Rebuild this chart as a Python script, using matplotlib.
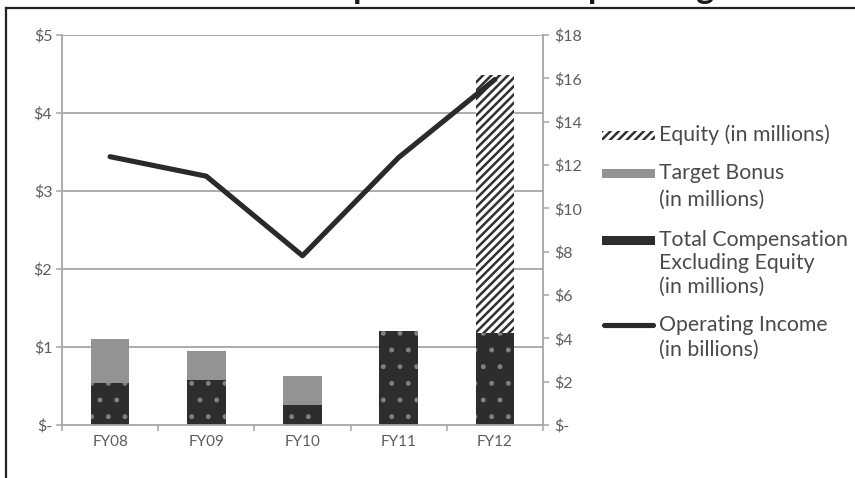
import matplotlib
matplotlib.use("Agg")
import matplotlib.pyplot as plt
import matplotlib.transforms as mtransforms
from matplotlib.patches import Rectangle
from matplotlib.lines import Line2D

# ---- data -------------------------------------------------------------
categories = ["FY08", "FY09", "FY10", "FY11", "FY12"]
total_comp = [1.95, 2.08, 0.92, 4.34, 4.26]      # $ millions
target_bonus = [2.02, 1.34, 1.34, 0.0, 0.0]      # $ millions
equity = [0.0, 0.0, 0.0, 0.0, 11.89]             # $ millions
operating_income = [3.44, 3.19, 2.17, 3.43, 4.43]  # $ billions

left_ticks = [0, 1, 2, 3, 4, 5]
left_labels = ["$-", "$1", "$2", "$3", "$4", "$5"]
right_ticks = [0, 2, 4, 6, 8, 10, 12, 14, 16, 18]
right_labels = ["$-", "$2", "$4", "$6", "$8", "$10", "$12", "$14", "$16", "$18"]

# ---- styling ----------------------------------------------------------
FONT = "Lato"
AXIS_GREY = "#a6a6a6"
TICK_TXT = "#5e5e5e"
LEG_TXT = "#4a4a4a"
DARK = "#2d2d2d"
BONUS = "#939393"
LINE = "#2a2a2a"
DOTS = "#808080"
STRIPE_LW = 1.8
DOT_LW = 1.1

plt.rcParams["font.family"] = [FONT, "DejaVu Sans"]

W, H = 855, 478
fig = plt.figure(figsize=(W / 100, H / 100), dpi=100)
fig.patch.set_facecolor("white")


def fx(x):
    return x / W


def fy(y):
    return 1 - y / H


ax = fig.add_axes([fx(62), fy(425), fx(543) - fx(62), fy(35) - fy(425)])
ax2 = ax.twinx()

# bars live on the right-hand (millions) axis, drawn underneath the line
ax.set_zorder(ax2.get_zorder() + 1)
ax.patch.set_visible(False)
ax2.patch.set_visible(True)
ax2.patch.set_facecolor("white")

x = list(range(len(categories)))
bw = 0.4

with plt.rc_context({"hatch.linewidth": DOT_LW}):
    ax2.bar(x, total_comp, width=bw, color=DARK, edgecolor=DOTS,
            linewidth=0, hatch=".", zorder=2)
bottom2 = [a for a in total_comp]
ax2.bar(x, target_bonus, width=bw, bottom=bottom2, color=BONUS,
        linewidth=0, zorder=2)
bottom3 = [a + b for a, b in zip(total_comp, target_bonus)]
with plt.rc_context({"hatch.linewidth": STRIPE_LW}):
    ax2.bar(x, equity, width=bw, bottom=bottom3, color="white",
            edgecolor="#303030", linewidth=0, hatch="////", zorder=2)

ax2.set_ylim(0, 18)
ax.set_ylim(0, 5)
ax.set_xlim(-0.5, len(categories) - 0.5)
ax2.set_xlim(-0.5, len(categories) - 0.5)

# horizontal gridlines at the left-axis ticks, behind the bars
grid_tr = mtransforms.blended_transform_factory(ax2.transAxes, ax.transData)
ax2.hlines(left_ticks[1:], 0, 1, transform=grid_tr, colors=AXIS_GREY,
           linewidth=1.3, zorder=1)

ax.plot(x, operating_income, color=LINE, linewidth=3.7,
        solid_capstyle="round", solid_joinstyle="round", zorder=3)

# left axis (billions)
ax.yaxis.set_ticks_position("left")
ax.set_yticks(left_ticks)
ax.set_yticklabels(left_labels)
ax.tick_params(axis="y", direction="out", length=4, width=1.1,
               color=AXIS_GREY, labelcolor=TICK_TXT, labelsize=11.5, pad=3)

# right axis (millions)
ax2.yaxis.set_ticks_position("right")
ax2.set_yticks(right_ticks)
ax2.set_yticklabels(right_labels)
ax2.tick_params(axis="y", direction="out", length=4, width=1.1,
                color=AXIS_GREY, labelcolor=TICK_TXT, labelsize=11.5, pad=4)

# category axis
ax.set_xticks(x)
ax.set_xticklabels(categories)
ax.tick_params(axis="x", length=0, labelcolor=TICK_TXT, labelsize=11, pad=7)
ax.set_xticks([i - 0.5 for i in range(len(categories) + 1)], minor=True)
ax.tick_params(axis="x", which="minor", direction="out", length=4,
               width=1.1, color=AXIS_GREY)
ax2.tick_params(axis="x", which="both", length=0, labelbottom=False)

for a in (ax, ax2):
    for s in a.spines.values():
        s.set_visible(False)
ax.spines["left"].set_visible(True)
ax.spines["bottom"].set_visible(True)
ax2.spines["right"].set_visible(True)
for s in (ax.spines["left"], ax.spines["bottom"], ax2.spines["right"]):
    s.set_color(AXIS_GREY)
    s.set_linewidth(1.3)

# ---- legend -----------------------------------------------------------
def leg_rect(y0, y1, **kw):
    r = Rectangle((fx(602), fy(y1)), fx(655) - fx(602), fy(y0) - fy(y1),
                  transform=fig.transFigure, linewidth=0, **kw)
    fig.add_artist(r)


with plt.rc_context({"hatch.linewidth": STRIPE_LW}):
    leg_rect(131, 140, facecolor="white", edgecolor="#303030", hatch="////")
leg_rect(169, 178, facecolor=BONUS)
with plt.rc_context({"hatch.linewidth": DOT_LW}):
    leg_rect(236, 245, facecolor=DARK, edgecolor=DOTS, hatch=".")
fig.add_artist(Line2D([fx(604), fx(653)], [fy(325), fy(325)],
                      transform=fig.transFigure, color=LINE, linewidth=3.7,
                      solid_capstyle="round"))

legend_lines = [
    ("Equity (in millions)", 135),
    ("Target Bonus", 173),
    ("(in millions)", 200),
    ("Total Compensation", 240),
    ("Excluding Equity", 263),
    ("(in millions)", 287),
    ("Operating Income", 325),
    ("(in billions)", 350),
]
for txt, yy in legend_lines:
    fig.text(fx(659), fy(yy), txt, ha="left", va="center", fontsize=15.3,
             color=LEG_TXT)

# ---- frame and title --------------------------------------------------
fig.add_artist(Line2D([fx(6), fx(W + 5)], [fy(8), fy(8)],
                      transform=fig.transFigure, color="#222222", linewidth=1.6))
fig.add_artist(Line2D([fx(6), fx(6)], [fy(8), fy(H + 5)],
                      transform=fig.transFigure, color="#222222", linewidth=1.6))

# title sits above the frame so only its descenders reach into the canvas;
# size and offset are set from measured glyph widths
title = "CEO Compensation vs. Operating Income"
renderer = fig.canvas.get_renderer()


def text_width(s, size):
    t = fig.text(0, 0, s, fontsize=size, fontweight="bold")
    w = t.get_window_extent(renderer).width
    t.remove()
    return w


base = 18
gap = text_width("CEO Compensation vs. O", base) - text_width("CEO Com", base)
size = base * 235 / gap
lead = text_width("CEO Com", size) + text_width("p", size) / 2
fig.text(fx(363 - lead), fy(-2), title, ha="left", va="baseline",
         fontsize=size, fontweight="bold", color="#1a1a1a")

fig.savefig("out.png", dpi=100, facecolor="white")
